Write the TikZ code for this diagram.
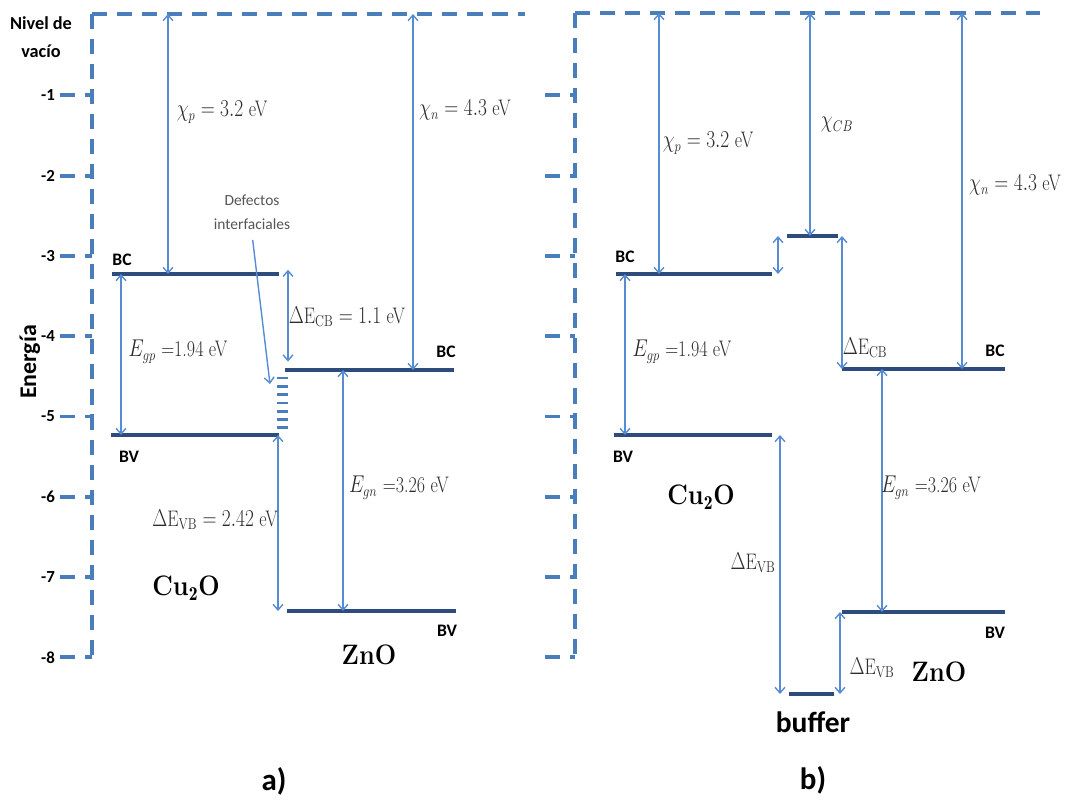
\documentclass[tikz,border=0pt]{standalone}
\usepackage{fontspec}
\newfontfamily\calibri{Carlito}
\usepackage{xcolor}
\usepackage{tikz}
\usetikzlibrary{arrows.meta,arrows}

\definecolor{vacio}{RGB}{74,126,187}
\definecolor{nivel}{RGB}{45,75,125}
\definecolor{flecha}{RGB}{88,140,210}
\definecolor{gris}{RGB}{45,45,45}
\definecolor{grisdef}{RGB}{85,85,85}

\tikzset{
vac/.style={draw=vacio,line width=2.8pt,dash pattern=on 10.7pt off 7.1pt},
lvl/.style={draw=nivel,line width=2.3pt},
arr/.style={draw=flecha,line width=1pt},
defecto/.style={draw=vacio,line width=2pt},
mat/.style={text=gris,xscale=0.8,font=\fontsize{16}{19}\selectfont},
banda/.style={font=\calibri\bfseries\fontsize{12.5}{14}\selectfont},
num/.style={font=\calibri\bfseries\fontsize{12}{14}\selectfont},
mater/.style={xscale=0.9,font=\bfseries\fontsize{20}{24}\selectfont},
panel/.style={font=\calibri\bfseries\fontsize{22}{26}\selectfont},
defl/.style={text=grisdef,align=center,font=\calibri\fontsize{11}{17}\selectfont}
}

\begin{document}
\begin{tikzpicture}[x=0.025cm,y=-0.025cm,>={Straight Barb[length=4pt,width=7pt]}]
\useasboundingbox (0,0) rectangle (1065,804);

\coordinate (vacA) at (92,14);
\draw[vac] (vacA) -- (525,14);
\draw[vac] (vacA) -- (92,657);
\foreach \e in {1,...,8}{
\draw[vac] (60,15+80.3*\e) -- (92,15+80.3*\e);
\node[num] (numA\e) at (48,15+80.3*\e) {-\e};
}
\node[align=center,font=\calibri\bfseries\fontsize{13}{20}\selectfont] (nivelA) at (41,37) {Nivel de\\vacío};
\node[rotate=90,font=\calibri\bfseries\fontsize{17}{18}\selectfont] (energia) at (30,362) {Energía};

\draw[lvl] (112,274) coordinate (bcCuA1) -- (279,274) coordinate (bcCuA2);
\draw[lvl] (111,435) coordinate (bvCuA1) -- (279,435) coordinate (bvCuA2);
\draw[lvl] (285,370) coordinate (bcZnA1) -- (454,370) coordinate (bcZnA2);
\draw[lvl] (287,611) coordinate (bvZnA1) -- (456,611) coordinate (bvZnA2);

\coordinate (chipA) at (168,0);
\coordinate (egpA) at (121,0);
\coordinate (dcbA) at (288,0);
\coordinate (chinA) at (413,0);
\coordinate (egnA) at (343,0);
\coordinate (dvbA) at (278,0);
\draw[arr,<->] (chipA |- vacA) -- (chipA |- bcCuA1);
\draw[arr,<->] (egpA |- bcCuA1) -- (egpA |- bvCuA1);
\draw[arr,<->,shorten <=-3pt,shorten >=6pt] (dcbA |- bcCuA2) -- (dcbA |- bcZnA1);
\draw[arr,<->] (chinA |- vacA) -- (chinA |- bcZnA1);
\draw[arr,<->] (egnA |- bcZnA1) -- (egnA |- bvZnA1);
\draw[arr,<->] (dvbA |- bvCuA2) -- (dvbA |- bvZnA1);

\foreach \k in {0,...,6}
\draw[defecto] (277,378+8.3*\k) -- (288,378+8.3*\k);
\coordinate (defA) at (270,384);
\node[defl] (defectos) at (252,212) {Defectos\\interfaciales};
\draw[arr,->,shorten <=4pt] (defectos.south) -- (defA);

\node[mat] (chipAl) at (222,112) {$\chi_p = 3.2$ eV};
\node[mat] (egpAl) at (178,352) {$E_{gp}$ =1.94 eV};
\node[mat] (dcbAl) at (347,317) {$\Delta\mathrm{E}_{\mathrm{CB}} = 1.1$ eV};
\node[mat] (chinAl) at (465,110) {$\chi_n = 4.3$ eV};
\node[mat] (egnAl) at (399,488) {$E_{gn}$ =3.26 eV};
\node[mat] (dvbAl) at (215,520) {$\Delta\mathrm{E}_{\mathrm{VB}} = 2.42$ eV};

\node[banda] (bcA1) at (122,260) {BC};
\node[banda] (bvA1) at (129,457) {BV};
\node[banda] (bcA2) at (446,352) {BC};
\node[banda] (bvA2) at (447,631) {BV};
\node[mater] (cuA) at (186,588) {Cu$_{\mathbf{2}}$O};
\node[mater] (znA) at (369,655) {ZnO};
\node[panel] (pa) at (274,781) {a)};

\coordinate (vacB) at (575,13);
\draw[vac] (vacB) -- (1040,13);
\draw[vac] (vacB) -- (575,657);
\foreach \e in {1,...,8}
\draw[vac] (545,15+80.3*\e) -- (575,15+80.3*\e);

\draw[lvl] (616,274) coordinate (bcCuB1) -- (772,274) coordinate (bcCuB2);
\draw[lvl] (614,435) coordinate (bvCuB1) -- (772,435) coordinate (bvCuB2);
\draw[lvl] (787,236) coordinate (bcBuf1) -- (838,236) coordinate (bcBuf2);
\draw[lvl] (789,694) coordinate (bvBuf1) -- (834,694) coordinate (bvBuf2);
\draw[lvl] (842,369) coordinate (bcZnB1) -- (1005,369) coordinate (bcZnB2);
\draw[lvl] (842,612) coordinate (bvZnB1) -- (1005,612) coordinate (bvZnB2);

\coordinate (chipB) at (659,0);
\coordinate (egpB) at (625,0);
\coordinate (dbufB) at (778,0);
\coordinate (chicbB) at (810,0);
\coordinate (dcbB) at (842,0);
\coordinate (chinB) at (962,0);
\coordinate (dvbB) at (780,0);
\coordinate (dvbZB) at (840,0);
\coordinate (egnB) at (882,0);
\draw[arr,<->] (chipB |- vacB) -- (chipB |- bcCuB1);
\draw[arr,<->] (egpB |- bcCuB1) -- (egpB |- bvCuB1);
\draw[arr,<->] (dbufB |- bcBuf1) -- (dbufB |- bcCuB2);
\draw[arr,<->] (chicbB |- vacB) -- (chicbB |- bcBuf1);
\draw[arr,<->] (dcbB |- bcBuf2) -- (dcbB |- bcZnB1);
\draw[arr,<->] (chinB |- vacB) -- (chinB |- bcZnB1);
\draw[arr,<->] (dvbB |- bvCuB2) -- (dvbB |- bvBuf1);
\draw[arr,<->] (dvbZB |- bvZnB1) -- (dvbZB |- bvBuf2);
\draw[arr,<->] (egnB |- bcZnB1) -- (egnB |- bvZnB1);

\node[mat] (chipBl) at (708,143) {$\chi_p = 3.2$ eV};
\node[mat] (chicbBl) at (837,125) {$\chi_{CB}$};
\node[mat] (chinBl) at (1015,185) {$\chi_n = 4.3$ eV};
\node[mat] (egpBl) at (682,352) {$E_{gp}$ =1.94 eV};
\node[mat] (dcbBl) at (865,348) {$\Delta\mathrm{E}_{\mathrm{CB}}$};
\node[mat] (dvbBl) at (753,563) {$\Delta\mathrm{E}_{\mathrm{VB}}$};
\node[mat] (dvbZBl) at (872,668) {$\Delta\mathrm{E}_{\mathrm{VB}}$};
\node[mat] (egnBl) at (931,488) {$E_{gn}$ =3.26 eV};

\node[banda] (bcB1) at (625,257) {BC};
\node[banda] (bvB1) at (623,457) {BV};
\node[banda] (bcB2) at (995,351) {BC};
\node[banda] (bvB2) at (995,633) {BV};
\node[mater] (cuB) at (701,497) {Cu$_{\mathbf{2}}$O};
\node[mater] (znB) at (939,672) {ZnO};
\node[font=\calibri\bfseries\fontsize{21}{24}\selectfont] (buffer) at (813,722) {buffer};
\node[panel] (pb) at (813,780) {b)};
\end{tikzpicture}
\end{document}
